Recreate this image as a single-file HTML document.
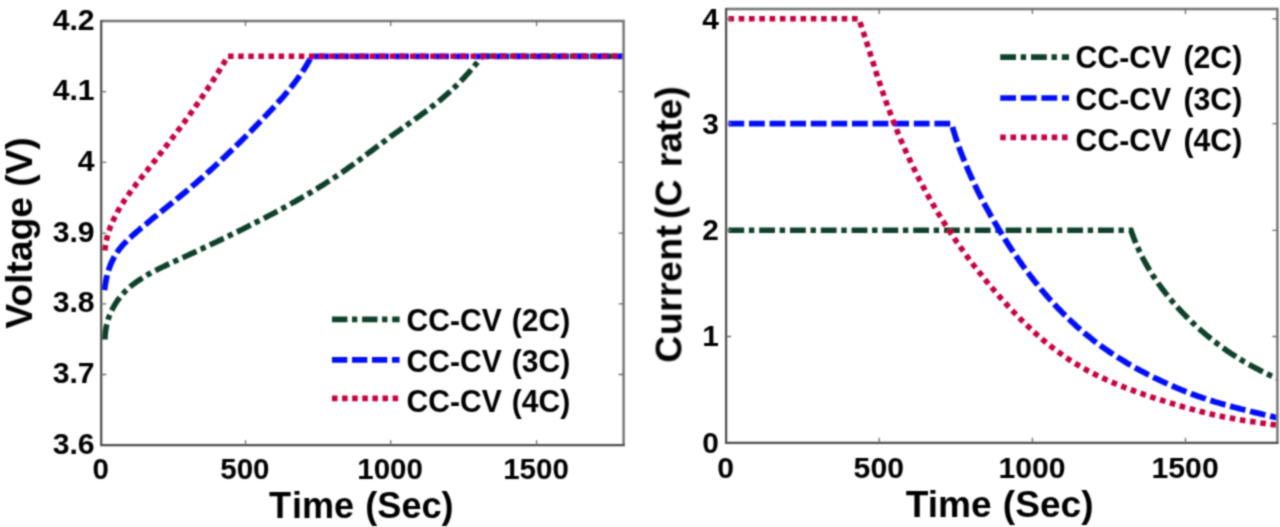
<!DOCTYPE html>
<html lang="en"><head><meta charset="utf-8"><title>CC-CV charging profiles</title>
<style>html,body{margin:0;padding:0;background:#fff}svg{display:block}text{font-family:"Liberation Sans",Arial,Helvetica,sans-serif;font-weight:bold;fill:#000}</style>
</head><body>
<svg width="1280" height="527" viewBox="0 0 1280 527">
<defs><filter id="soft" x="-1%" y="-1%" width="102%" height="102%"><feConvolveMatrix order="5" kernelMatrix="0.0002 0.0033 0.0081 0.0033 0.0002 0.0033 0.0478 0.1164 0.0478 0.0033 0.0081 0.1164 0.2832 0.1164 0.0081 0.0033 0.0478 0.1164 0.0478 0.0033 0.0002 0.0033 0.0081 0.0033 0.0002" edgeMode="duplicate" preserveAlpha="false"/></filter></defs>
<rect width="1280" height="527" fill="#fff"/>
<g filter="url(#soft)">
<g id="left">
<clipPath id="cl"><rect x="101.2" y="21.0" width="522.4" height="424.2"/></clipPath>
<g clip-path="url(#cl)" fill="none" stroke-width="5.6">
<path d="M105.0 339.5 L105.0 337.0 L105.2 334.5 L105.4 332.0 L105.8 329.5 L106.2 327.1 L106.7 324.7 L107.3 322.3 L108.0 320.0 L108.7 317.6 L109.6 315.3 L110.5 313.1 L111.5 310.9 L112.6 308.7 L113.7 306.6 L115.0 304.5 L116.3 302.4 L117.6 300.4 L119.0 298.5 L120.5 296.6 L122.1 294.8 L123.7 293.0 L125.3 291.2 L127.0 289.6 L128.8 288.0 L130.6 286.4 L132.5 284.9 L134.4 283.4 L136.3 282.0 L138.3 280.6 L140.3 279.3 L142.3 278.0 L144.3 276.7 L146.4 275.5 L148.5 274.2 L150.7 273.1 L152.8 271.9 L155.0 270.8 L157.1 269.7 L159.3 268.6 L161.5 267.5 L163.7 266.5 L165.9 265.4 L168.1 264.4 L170.4 263.4 L172.6 262.3 L174.8 261.3 L177.0 260.3 L179.2 259.3 L181.5 258.2 L183.7 257.2 L185.9 256.2 L188.1 255.2 L190.3 254.1 L192.6 253.1 L194.8 252.1 L197.0 251.0 L199.2 250.0 L201.4 249.0 L203.6 247.9 L205.8 246.9 L208.0 245.8 L210.2 244.8 L212.4 243.8 L214.6 242.7 L216.8 241.7 L219.0 240.6 L221.2 239.6 L223.4 238.5 L225.6 237.5 L227.8 236.4 L230.0 235.3 L232.2 234.3 L234.4 233.2 L236.5 232.1 L238.7 231.1 L240.9 230.0 L243.1 228.9 L245.3 227.8 L247.4 226.7 L249.6 225.6 L251.8 224.5 L253.9 223.4 L256.1 222.3 L258.3 221.2 L260.4 220.1 L262.6 219.0 L264.7 217.9 L266.9 216.8 L269.0 215.6 L271.2 214.5 L273.3 213.4 L275.5 212.2 L277.6 211.1 L279.8 209.9 L281.9 208.8 L284.0 207.6 L286.2 206.4 L288.3 205.3 L290.4 204.1 L292.5 202.9 L294.7 201.7 L296.8 200.5 L298.9 199.3 L301.0 198.1 L303.1 196.9 L305.2 195.7 L307.3 194.4 L309.4 193.2 L311.5 192.0 L313.5 190.7 L315.6 189.5 L317.7 188.2 L319.8 186.9 L321.8 185.6 L323.9 184.3 L325.9 183.0 L328.0 181.7 L330.0 180.4 L332.1 179.1 L334.1 177.7 L336.1 176.4 L338.1 175.0 L340.2 173.6 L342.2 172.3 L344.2 170.9 L346.2 169.5 L348.1 168.0 L350.1 166.6 L352.1 165.2 L354.1 163.8 L356.0 162.3 L358.0 160.9 L360.0 159.4 L361.9 158.0 L363.9 156.5 L365.8 155.0 L367.8 153.6 L369.7 152.1 L371.7 150.7 L373.6 149.2 L375.6 147.7 L377.5 146.3 L379.5 144.8 L381.5 143.3 L383.4 141.9 L385.4 140.5 L387.3 139.0 L389.3 137.6 L391.2 136.1 L393.2 134.7 L395.2 133.3 L397.2 131.9 L399.1 130.5 L401.1 129.1 L403.1 127.7 L405.1 126.3 L407.0 124.9 L409.0 123.5 L411.0 122.1 L413.0 120.7 L414.9 119.3 L416.9 117.9 L418.9 116.5 L420.8 115.1 L422.8 113.6 L424.7 112.2 L426.6 110.7 L428.6 109.3 L430.5 107.8 L432.4 106.3 L434.3 104.8 L436.2 103.3 L438.1 101.8 L440.0 100.3 L441.9 98.7 L443.7 97.1 L445.6 95.5 L447.4 93.9 L449.2 92.3 L451.0 90.6 L452.8 88.9 L454.6 87.2 L456.4 85.5 L458.1 83.8 L459.9 82.0 L461.6 80.3 L463.3 78.5 L465.0 76.7 L466.6 74.9 L468.3 73.1 L469.9 71.2 L471.5 69.4 L473.1 67.6 L474.6 65.7 L476.2 63.8 L477.7 62.0 L479.2 60.1 L480.7 58.2 L482.1 56.3 L623.0 56.3" stroke="#10402a" stroke-dasharray="15.4 4.6 5.3 4.8"/>
<path d="M104.5 290.2 L104.7 288.6 L104.9 287.0 L105.1 285.4 L105.4 283.8 L105.7 282.2 L106.0 280.6 L106.3 279.0 L106.6 277.5 L107.0 275.9 L107.4 274.3 L107.8 272.8 L108.3 271.2 L108.8 269.7 L109.3 268.2 L109.8 266.7 L110.4 265.2 L111.0 263.7 L111.6 262.3 L112.3 260.8 L113.0 259.4 L113.7 258.0 L114.4 256.6 L115.2 255.2 L116.1 253.9 L116.9 252.6 L117.8 251.3 L118.7 250.0 L119.7 248.7 L120.7 247.5 L121.7 246.3 L122.7 245.1 L123.8 243.9 L124.9 242.8 L126.0 241.7 L127.1 240.5 L128.3 239.4 L129.4 238.3 L130.6 237.3 L131.8 236.2 L133.0 235.1 L134.2 234.1 L135.4 233.0 L136.6 232.0 L137.9 230.9 L139.1 229.9 L140.3 228.8 L141.5 227.8 L142.8 226.8 L144.0 225.8 L145.2 224.7 L146.5 223.7 L147.7 222.7 L148.9 221.7 L150.2 220.6 L151.4 219.6 L152.7 218.6 L153.9 217.6 L155.1 216.6 L156.4 215.6 L157.6 214.6 L158.9 213.6 L160.1 212.6 L161.3 211.6 L162.6 210.6 L163.8 209.5 L165.1 208.5 L166.3 207.5 L167.5 206.5 L168.8 205.5 L170.0 204.5 L171.2 203.5 L172.5 202.5 L173.7 201.5 L175.0 200.5 L176.2 199.5 L177.4 198.5 L178.7 197.5 L179.9 196.5 L181.1 195.5 L182.3 194.4 L183.6 193.4 L184.8 192.4 L186.0 191.4 L187.2 190.4 L188.5 189.3 L189.7 188.3 L190.9 187.3 L192.1 186.3 L193.3 185.2 L194.5 184.2 L195.8 183.2 L197.0 182.1 L198.2 181.1 L199.4 180.0 L200.6 179.0 L201.8 177.9 L203.0 176.9 L204.2 175.8 L205.4 174.8 L206.5 173.7 L207.7 172.6 L208.9 171.6 L210.1 170.5 L211.3 169.4 L212.5 168.3 L213.6 167.3 L214.8 166.2 L216.0 165.1 L217.2 164.0 L218.3 162.9 L219.5 161.8 L220.7 160.7 L221.8 159.6 L223.0 158.5 L224.2 157.4 L225.3 156.3 L226.5 155.2 L227.6 154.1 L228.8 153.0 L229.9 151.9 L231.1 150.8 L232.2 149.7 L233.4 148.6 L234.5 147.5 L235.7 146.3 L236.8 145.2 L238.0 144.1 L239.1 143.0 L240.2 141.9 L241.4 140.7 L242.5 139.6 L243.6 138.5 L244.8 137.3 L245.9 136.2 L247.0 135.1 L248.1 133.9 L249.3 132.8 L250.4 131.7 L251.5 130.5 L252.6 129.4 L253.7 128.2 L254.8 127.1 L256.0 125.9 L257.1 124.8 L258.2 123.6 L259.3 122.5 L260.4 121.3 L261.5 120.2 L262.6 119.0 L263.7 117.9 L264.8 116.7 L265.9 115.6 L267.0 114.4 L268.1 113.2 L269.2 112.1 L270.3 110.9 L271.4 109.8 L272.5 108.6 L273.6 107.4 L274.6 106.3 L275.7 105.1 L276.8 103.9 L277.9 102.7 L278.9 101.5 L280.0 100.3 L281.0 99.2 L282.1 98.0 L283.1 96.8 L284.2 95.6 L285.2 94.3 L286.2 93.1 L287.3 91.9 L288.3 90.7 L289.3 89.5 L290.3 88.2 L291.3 87.0 L292.3 85.7 L293.2 84.5 L294.2 83.2 L295.2 82.0 L296.1 80.7 L297.1 79.4 L298.0 78.1 L298.9 76.8 L299.8 75.5 L300.7 74.2 L301.6 72.9 L302.5 71.5 L303.4 70.2 L304.3 68.9 L305.1 67.5 L306.0 66.1 L306.8 64.8 L307.6 63.4 L308.4 62.0 L309.2 60.6 L310.0 59.2 L310.7 57.7 L311.5 56.3 L623.0 56.3" stroke="#0010f8" stroke-width="5.8" stroke-dasharray="15.3 4.7"/>
<path d="M104.9 250.5 L105.0 249.3 L105.1 248.1 L105.3 247.0 L105.4 245.8 L105.6 244.7 L105.8 243.5 L106.0 242.4 L106.2 241.2 L106.5 240.1 L106.7 239.0 L107.0 237.8 L107.3 236.7 L107.6 235.6 L107.9 234.5 L108.2 233.4 L108.5 232.3 L108.9 231.2 L109.3 230.1 L109.6 229.0 L110.0 228.0 L110.4 226.9 L110.8 225.8 L111.3 224.8 L111.7 223.7 L112.1 222.7 L112.6 221.6 L113.1 220.6 L113.6 219.5 L114.1 218.5 L114.6 217.4 L115.1 216.4 L115.6 215.4 L116.1 214.4 L116.7 213.4 L117.2 212.3 L117.8 211.3 L118.4 210.3 L118.9 209.3 L119.5 208.3 L120.1 207.3 L120.7 206.3 L121.3 205.3 L121.9 204.4 L122.6 203.4 L123.2 202.4 L123.8 201.4 L124.5 200.4 L125.1 199.5 L125.8 198.5 L126.5 197.5 L127.1 196.6 L127.8 195.6 L128.5 194.6 L129.2 193.7 L129.9 192.7 L130.5 191.8 L131.2 190.8 L131.9 189.9 L132.7 188.9 L133.4 188.0 L134.1 187.1 L134.8 186.1 L135.5 185.2 L136.2 184.2 L136.9 183.3 L137.7 182.4 L138.4 181.4 L139.1 180.5 L139.9 179.6 L140.6 178.6 L141.3 177.7 L142.1 176.8 L142.8 175.8 L143.5 174.9 L144.3 174.0 L145.0 173.1 L145.7 172.1 L146.5 171.2 L147.2 170.3 L147.9 169.4 L148.6 168.5 L149.4 167.5 L150.1 166.6 L150.8 165.7 L151.6 164.8 L152.3 163.8 L153.0 162.9 L153.7 162.0 L154.5 161.1 L155.2 160.2 L155.9 159.3 L156.6 158.3 L157.3 157.4 L158.1 156.5 L158.8 155.6 L159.5 154.7 L160.2 153.7 L160.9 152.8 L161.7 151.9 L162.4 151.0 L163.1 150.1 L163.8 149.1 L164.5 148.2 L165.2 147.3 L165.9 146.4 L166.6 145.5 L167.4 144.6 L168.1 143.6 L168.8 142.7 L169.5 141.8 L170.2 140.9 L170.9 140.0 L171.6 139.0 L172.3 138.1 L173.0 137.2 L173.7 136.3 L174.4 135.3 L175.1 134.4 L175.8 133.5 L176.5 132.6 L177.2 131.7 L177.9 130.7 L178.6 129.8 L179.3 128.9 L179.9 128.0 L180.6 127.0 L181.3 126.1 L182.0 125.2 L182.7 124.2 L183.4 123.3 L184.1 122.4 L184.8 121.5 L185.4 120.5 L186.1 119.6 L186.8 118.7 L187.5 117.7 L188.2 116.8 L188.8 115.9 L189.5 114.9 L190.2 114.0 L190.9 113.1 L191.5 112.1 L192.2 111.2 L192.9 110.2 L193.5 109.3 L194.2 108.3 L194.9 107.4 L195.5 106.5 L196.2 105.5 L196.9 104.6 L197.5 103.6 L198.2 102.7 L198.9 101.7 L199.5 100.8 L200.2 99.8 L200.8 98.9 L201.5 97.9 L202.1 96.9 L202.8 96.0 L203.4 95.0 L204.1 94.1 L204.7 93.1 L205.4 92.1 L206.0 91.2 L206.7 90.2 L207.3 89.2 L208.0 88.3 L208.6 87.3 L209.2 86.3 L209.9 85.4 L210.5 84.4 L211.2 83.4 L211.8 82.4 L212.4 81.4 L213.1 80.5 L213.7 79.5 L214.3 78.5 L214.9 77.5 L215.6 76.5 L216.2 75.5 L216.8 74.5 L217.4 73.5 L218.1 72.5 L218.7 71.5 L219.3 70.5 L219.9 69.5 L220.5 68.5 L221.1 67.5 L221.8 66.5 L222.4 65.5 L223.0 64.5 L223.6 63.5 L224.2 62.4 L224.8 61.4 L225.4 60.4 L226.0 59.4 L226.6 58.4 L227.2 57.3 L227.8 56.3 L623.0 56.3" stroke="#c6003f" stroke-dasharray="5.5 4.6"/>
</g>
<g fill="none" stroke="#4c4c4c" stroke-width="2.2">
<path d="M101.2 21.0 H623.6 V445.2" stroke="#727272" stroke-width="2.4"/>
<path d="M101.2 21.0 V445.2 H623.6" stroke-linecap="square"/>
<path d="M245.5 445.2 v-5 M245.5 21.0 v5 M390.7 445.2 v-5 M390.7 21.0 v5 M536.6 445.2 v-5 M536.6 21.0 v5 M101.2 91.7 h5 M623.6 91.7 h-5 M101.2 162.4 h5 M623.6 162.4 h-5 M101.2 233.1 h5 M623.6 233.1 h-5 M101.2 303.8 h5 M623.6 303.8 h-5 M101.2 374.5 h5 M623.6 374.5 h-5" stroke-width="1.3" stroke="#6a6a6a"/>
</g>
<g font-size="30.2" text-anchor="end">
<text x="94.6" y="29.6">4.2</text>
<text x="94.6" y="100.3">4.1</text>
<text x="94.6" y="171.0">4</text>
<text x="94.6" y="241.7">3.9</text>
<text x="94.6" y="312.4">3.8</text>
<text x="94.6" y="383.1">3.7</text>
<text x="94.6" y="453.8">3.6</text>
</g>
<g font-size="29.5" text-anchor="middle">
<text x="100.6" y="478.8">0</text>
<text x="244.9" y="478.8">500</text>
<text x="390.1" y="478.8">1000</text>
<text x="536.0" y="478.8">1500</text>
</g>
<text x="361.3" y="518" font-size="36.1" word-spacing="1.2" text-anchor="middle" dx="0 1.6">Time (Sec)</text>
<text transform="translate(32.0 232.9) rotate(-90)" font-size="37.2" text-anchor="middle">Voltage (V)</text>
<path d="M332 319.4 H399.6" fill="none" stroke="#10402a" stroke-width="5.6" stroke-dasharray="15.4 4.6 5.3 4.8"/>
<text transform="translate(406.5 331.1) scale(1 1.05)" font-size="30.1" word-spacing="1.6">CC-CV (2C)</text>
<path d="M332 359.9 H399.6" fill="none" stroke="#0010f8" stroke-width="5.6" stroke-dasharray="15.3 4.7"/>
<text transform="translate(406.5 371.8) scale(1 1.05)" font-size="30.1" word-spacing="1.6">CC-CV (3C)</text>
<path d="M332 398.4 H399.6" fill="none" stroke="#c6003f" stroke-width="5.6" stroke-dasharray="5.5 4.6"/>
<text transform="translate(406.5 412.2) scale(1 1.05)" font-size="30.1" word-spacing="1.6">CC-CV (4C)</text>
</g>
<g id="right">
<clipPath id="cr"><rect x="726.1" y="9.0" width="551.3" height="433.8"/></clipPath>
<g clip-path="url(#cr)" fill="none" stroke-width="5.6">
<path d="M728.4 230.3 L1131.0 230.3 L1131.3 231.3 L1131.7 232.3 L1132.0 233.3 L1132.4 234.4 L1132.8 235.4 L1133.1 236.4 L1133.5 237.4 L1133.9 238.4 L1134.3 239.4 L1134.7 240.4 L1135.1 241.4 L1135.5 242.4 L1135.9 243.4 L1136.3 244.3 L1136.8 245.3 L1137.2 246.3 L1137.6 247.3 L1138.1 248.3 L1138.5 249.2 L1139.0 250.2 L1139.4 251.2 L1139.9 252.2 L1140.3 253.1 L1140.8 254.1 L1141.3 255.1 L1141.8 256.0 L1142.3 257.0 L1142.7 257.9 L1143.2 258.9 L1143.7 259.8 L1144.3 260.8 L1144.8 261.7 L1145.3 262.7 L1145.8 263.6 L1146.3 264.5 L1146.9 265.5 L1147.4 266.4 L1147.9 267.3 L1148.5 268.2 L1149.0 269.2 L1149.6 270.1 L1150.1 271.0 L1150.7 271.9 L1151.3 272.8 L1151.9 273.8 L1152.4 274.7 L1153.0 275.6 L1153.6 276.5 L1154.2 277.4 L1154.8 278.3 L1155.4 279.2 L1156.0 280.1 L1156.6 280.9 L1157.2 281.8 L1157.8 282.7 L1158.4 283.6 L1159.1 284.5 L1159.7 285.3 L1160.3 286.2 L1161.0 287.1 L1161.6 288.0 L1162.3 288.8 L1162.9 289.7 L1163.6 290.5 L1164.2 291.4 L1164.9 292.3 L1165.5 293.1 L1166.2 294.0 L1166.9 294.8 L1167.6 295.7 L1168.2 296.5 L1168.9 297.3 L1169.6 298.2 L1170.3 299.0 L1171.0 299.8 L1171.7 300.7 L1172.4 301.5 L1173.1 302.3 L1173.8 303.1 L1174.5 303.9 L1175.2 304.7 L1175.9 305.6 L1176.7 306.4 L1177.4 307.2 L1178.1 308.0 L1178.8 308.8 L1179.6 309.6 L1180.3 310.3 L1181.0 311.1 L1181.8 311.9 L1182.5 312.7 L1183.3 313.5 L1184.0 314.3 L1184.8 315.0 L1185.5 315.8 L1186.3 316.6 L1187.1 317.3 L1187.8 318.1 L1188.6 318.9 L1189.4 319.6 L1190.1 320.4 L1190.9 321.1 L1191.7 321.9 L1192.5 322.6 L1193.3 323.4 L1194.1 324.1 L1194.8 324.8 L1195.6 325.6 L1196.4 326.3 L1197.2 327.0 L1198.0 327.7 L1198.8 328.5 L1199.6 329.2 L1200.4 329.9 L1201.2 330.6 L1202.1 331.3 L1202.9 332.0 L1203.7 332.7 L1204.5 333.4 L1205.3 334.1 L1206.2 334.8 L1207.0 335.5 L1207.8 336.2 L1208.6 336.9 L1209.5 337.5 L1210.3 338.2 L1211.2 338.9 L1212.0 339.6 L1212.8 340.2 L1213.7 340.9 L1214.5 341.6 L1215.4 342.2 L1216.2 342.9 L1217.1 343.5 L1218.0 344.2 L1218.8 344.8 L1219.7 345.4 L1220.5 346.1 L1221.4 346.7 L1222.3 347.4 L1223.2 348.0 L1224.0 348.6 L1224.9 349.2 L1225.8 349.8 L1226.7 350.5 L1227.5 351.1 L1228.4 351.7 L1229.3 352.3 L1230.2 352.9 L1231.1 353.5 L1232.0 354.1 L1232.9 354.7 L1233.8 355.2 L1234.7 355.8 L1235.6 356.4 L1236.5 357.0 L1237.4 357.6 L1238.3 358.1 L1239.2 358.7 L1240.1 359.3 L1241.1 359.8 L1242.0 360.4 L1242.9 360.9 L1243.8 361.5 L1244.7 362.0 L1245.7 362.6 L1246.6 363.1 L1247.5 363.7 L1248.5 364.2 L1249.4 364.7 L1250.3 365.2 L1251.3 365.8 L1252.2 366.3 L1253.2 366.8 L1254.1 367.3 L1255.1 367.8 L1256.0 368.3 L1257.0 368.8 L1257.9 369.3 L1258.9 369.8 L1259.8 370.3 L1260.8 370.8 L1261.8 371.3 L1262.7 371.7 L1263.7 372.2 L1264.6 372.7 L1265.6 373.2 L1266.6 373.6 L1267.6 374.1 L1268.5 374.5 L1269.5 375.0 L1270.5 375.5 L1271.5 375.9 L1272.5 376.3 L1273.4 376.8 L1274.4 377.2 L1275.4 377.6 L1276.4 378.1 L1277.4 378.5" stroke="#10402a" stroke-dasharray="15.8 4.7 5.4 4.9"/>
<path d="M728.4 123.7 L951.5 123.7 L952.2 126.0 L952.8 128.2 L953.5 130.5 L954.2 132.7 L954.9 135.0 L955.6 137.2 L956.4 139.4 L957.1 141.6 L957.9 143.8 L958.6 146.0 L959.4 148.2 L960.2 150.4 L961.0 152.6 L961.9 154.8 L962.7 156.9 L963.6 159.1 L964.4 161.3 L965.3 163.4 L966.2 165.6 L967.1 167.7 L968.0 169.8 L968.9 172.0 L969.9 174.1 L970.8 176.2 L971.8 178.3 L972.7 180.4 L973.7 182.5 L974.7 184.6 L975.7 186.7 L976.7 188.8 L977.7 190.9 L978.7 193.0 L979.8 195.0 L980.8 197.1 L981.9 199.1 L983.0 201.2 L984.1 203.3 L985.1 205.3 L986.2 207.3 L987.4 209.4 L988.5 211.4 L989.6 213.4 L990.7 215.5 L991.9 217.5 L993.1 219.5 L994.2 221.5 L995.4 223.5 L996.6 225.5 L997.8 227.5 L999.0 229.5 L1000.2 231.5 L1001.4 233.5 L1002.6 235.5 L1003.9 237.5 L1005.1 239.5 L1006.4 241.4 L1007.6 243.4 L1008.9 245.4 L1010.2 247.3 L1011.5 249.3 L1012.8 251.2 L1014.1 253.2 L1015.4 255.1 L1016.7 257.0 L1018.1 258.9 L1019.4 260.9 L1020.8 262.8 L1022.1 264.7 L1023.5 266.6 L1024.9 268.5 L1026.3 270.4 L1027.7 272.2 L1029.1 274.1 L1030.5 276.0 L1032.0 277.8 L1033.4 279.7 L1034.8 281.5 L1036.3 283.3 L1037.8 285.2 L1039.3 287.0 L1040.7 288.8 L1042.2 290.6 L1043.8 292.3 L1045.3 294.1 L1046.8 295.9 L1048.3 297.6 L1049.9 299.4 L1051.5 301.1 L1053.0 302.8 L1054.6 304.6 L1056.2 306.3 L1057.8 308.0 L1059.4 309.6 L1061.0 311.3 L1062.7 313.0 L1064.3 314.6 L1066.0 316.2 L1067.6 317.9 L1069.3 319.5 L1071.0 321.1 L1072.7 322.7 L1074.4 324.2 L1076.1 325.8 L1077.8 327.3 L1079.6 328.9 L1081.3 330.4 L1083.1 331.9 L1084.9 333.4 L1086.7 334.9 L1088.5 336.3 L1090.3 337.8 L1092.1 339.2 L1093.9 340.7 L1095.7 342.1 L1097.6 343.5 L1099.5 344.8 L1101.3 346.2 L1103.2 347.5 L1105.1 348.9 L1107.0 350.2 L1108.9 351.5 L1110.8 352.8 L1112.8 354.1 L1114.7 355.4 L1116.7 356.6 L1118.6 357.9 L1120.6 359.1 L1122.6 360.3 L1124.6 361.5 L1126.5 362.7 L1128.5 363.9 L1130.6 365.1 L1132.6 366.2 L1134.6 367.4 L1136.6 368.5 L1138.7 369.6 L1140.7 370.7 L1142.8 371.8 L1144.9 372.9 L1146.9 374.0 L1149.0 375.0 L1151.1 376.1 L1153.2 377.1 L1155.3 378.2 L1157.4 379.2 L1159.5 380.2 L1161.6 381.2 L1163.8 382.2 L1165.9 383.1 L1168.0 384.1 L1170.2 385.1 L1172.3 386.0 L1174.5 386.9 L1176.6 387.9 L1178.8 388.8 L1180.9 389.7 L1183.1 390.6 L1185.3 391.4 L1187.5 392.3 L1189.7 393.1 L1191.8 394.0 L1194.0 394.8 L1196.2 395.6 L1198.4 396.4 L1200.6 397.1 L1202.8 397.9 L1205.1 398.6 L1207.3 399.4 L1209.5 400.1 L1211.7 400.8 L1213.9 401.5 L1216.1 402.2 L1218.4 402.8 L1220.6 403.5 L1222.8 404.1 L1225.1 404.8 L1227.3 405.4 L1229.6 406.0 L1231.8 406.6 L1234.0 407.2 L1236.3 407.8 L1238.5 408.4 L1240.8 409.0 L1243.0 409.5 L1245.3 410.1 L1247.6 410.7 L1249.8 411.2 L1252.1 411.8 L1254.3 412.3 L1256.6 412.8 L1258.9 413.4 L1261.1 413.9 L1263.4 414.5 L1265.7 415.0 L1267.9 415.5 L1270.2 416.1 L1272.5 416.6 L1274.7 417.2 L1277.0 417.7" stroke="#0010f8" stroke-width="5.8" stroke-dasharray="15.8 4.8"/>
<path d="M728.4 18.8 L858.9 18.8 L859.9 21.8 L860.9 24.8 L861.9 27.8 L862.9 30.8 L863.9 33.8 L864.9 36.8 L865.9 39.8 L866.8 42.8 L867.8 45.8 L868.7 48.8 L869.7 51.8 L870.6 54.8 L871.6 57.8 L872.5 60.8 L873.5 63.8 L874.4 66.8 L875.4 69.8 L876.3 72.8 L877.3 75.8 L878.3 78.8 L879.3 81.8 L880.3 84.8 L881.3 87.8 L882.3 90.8 L883.3 93.8 L884.3 96.8 L885.4 99.7 L886.4 102.7 L887.5 105.7 L888.6 108.7 L889.7 111.6 L890.8 114.6 L891.9 117.6 L893.0 120.5 L894.2 123.5 L895.3 126.4 L896.5 129.3 L897.7 132.3 L898.9 135.2 L900.1 138.1 L901.3 141.0 L902.6 143.9 L903.8 146.8 L905.1 149.7 L906.4 152.6 L907.7 155.5 L909.0 158.3 L910.4 161.2 L911.7 164.1 L913.1 166.9 L914.5 169.7 L915.8 172.6 L917.3 175.4 L918.7 178.2 L920.1 181.0 L921.6 183.8 L923.1 186.6 L924.6 189.3 L926.1 192.1 L927.6 194.9 L929.1 197.6 L930.7 200.4 L932.2 203.1 L933.8 205.8 L935.4 208.5 L937.0 211.2 L938.6 213.9 L940.3 216.6 L941.9 219.3 L943.6 222.0 L945.3 224.6 L947.0 227.3 L948.7 229.9 L950.4 232.5 L952.2 235.2 L953.9 237.8 L955.7 240.4 L957.5 243.0 L959.3 245.6 L961.1 248.1 L963.0 250.7 L964.8 253.2 L966.7 255.8 L968.5 258.3 L970.4 260.9 L972.3 263.4 L974.2 265.9 L976.2 268.4 L978.1 270.9 L980.1 273.3 L982.1 275.8 L984.0 278.3 L986.0 280.7 L988.1 283.2 L990.1 285.6 L992.1 288.0 L994.2 290.4 L996.2 292.8 L998.3 295.2 L1000.4 297.6 L1002.5 299.9 L1004.7 302.3 L1006.8 304.6 L1008.9 307.0 L1011.1 309.3 L1013.3 311.6 L1015.5 313.9 L1017.7 316.2 L1019.9 318.4 L1022.2 320.7 L1024.4 322.9 L1026.7 325.1 L1029.0 327.3 L1031.3 329.5 L1033.6 331.6 L1035.9 333.7 L1038.3 335.8 L1040.7 337.9 L1043.1 340.0 L1045.5 342.0 L1047.9 344.0 L1050.4 345.9 L1052.9 347.9 L1055.3 349.8 L1057.9 351.7 L1060.4 353.5 L1062.9 355.3 L1065.5 357.1 L1068.1 358.9 L1070.7 360.6 L1073.4 362.3 L1076.0 363.9 L1078.7 365.5 L1081.4 367.1 L1084.2 368.6 L1086.9 370.2 L1089.7 371.6 L1092.5 373.1 L1095.3 374.5 L1098.1 375.9 L1100.9 377.2 L1103.8 378.6 L1106.6 379.9 L1109.5 381.1 L1112.4 382.4 L1115.3 383.6 L1118.2 384.8 L1121.1 386.0 L1124.1 387.2 L1127.0 388.3 L1130.0 389.4 L1133.0 390.5 L1135.9 391.6 L1138.9 392.7 L1141.9 393.7 L1144.9 394.8 L1147.9 395.8 L1150.9 396.8 L1154.0 397.8 L1157.0 398.8 L1160.0 399.7 L1163.0 400.7 L1166.0 401.6 L1169.1 402.6 L1172.1 403.5 L1175.1 404.4 L1178.2 405.3 L1181.2 406.2 L1184.2 407.1 L1187.3 407.9 L1190.3 408.8 L1193.4 409.6 L1196.4 410.4 L1199.5 411.2 L1202.5 412.0 L1205.6 412.8 L1208.7 413.5 L1211.7 414.2 L1214.8 414.9 L1217.9 415.6 L1220.9 416.2 L1224.0 416.9 L1227.1 417.5 L1230.2 418.0 L1233.3 418.6 L1236.4 419.2 L1239.5 419.7 L1242.6 420.2 L1245.7 420.7 L1248.8 421.2 L1251.9 421.6 L1255.0 422.1 L1258.2 422.5 L1261.3 423.0 L1264.4 423.4 L1267.6 423.8 L1270.7 424.3 L1273.8 424.7 L1277.0 425.1" stroke="#c6003f" stroke-dasharray="5.6 4.7"/>
</g>
<g fill="none" stroke="#4c4c4c" stroke-width="2.2">
<path d="M726.1 9.0 H1277.4 V442.8" stroke="#727272" stroke-width="2.4"/>
<path d="M726.1 9.0 V442.8 H1277.4" stroke-linecap="square"/>
<path d="M879.2 442.8 v-5 M879.2 9.0 v5 M1032.4 442.8 v-5 M1032.4 9.0 v5 M1185.5 442.8 v-5 M1185.5 9.0 v5 M726.1 336.5 h5 M1277.4 336.5 h-5 M726.1 230.3 h5 M1277.4 230.3 h-5 M726.1 123.7 h5 M1277.4 123.7 h-5 M726.1 18.8 h5 M1277.4 18.8 h-5" stroke-width="1.3" stroke="#6a6a6a"/>
</g>
<g font-size="29.9" text-anchor="end">
<text x="718.8" y="28.6">4</text>
<text x="718.8" y="133.5">3</text>
<text x="718.8" y="240.1">2</text>
<text x="718.8" y="346.3">1</text>
<text x="718.8" y="452.6">0</text>
</g>
<g font-size="30.2" text-anchor="middle">
<text x="725.7" y="477.8">0</text>
<text x="878.8" y="477.8">500</text>
<text x="1032.0" y="477.8">1000</text>
<text x="1185.1" y="477.8">1500</text>
</g>
<text x="999.6" y="517.2" font-size="37.1" word-spacing="1" text-anchor="middle">Time (Sec)</text>
<text transform="translate(681.5 362.7) rotate(-90)" font-size="37.4" dx="0 .45 .45 .45 .45 .45 .45 0 -4.35 0 0 1.84">Current (C rate)</text>
<path d="M1000.2 57.1 H1069" fill="none" stroke="#10402a" stroke-width="5.6" stroke-dasharray="15.8 4.7 5.4 4.9"/>
<text transform="translate(1075.6 68.3) scale(1 1.05)" font-size="30.2" word-spacing="3.9">CC-CV (2C)</text>
<path d="M1000.2 98.0 H1069" fill="none" stroke="#0010f8" stroke-width="5.6" stroke-dasharray="15.8 4.8"/>
<text transform="translate(1075.6 109.5) scale(1 1.05)" font-size="30.2" word-spacing="3.9">CC-CV (3C)</text>
<path d="M1000.2 137.4 H1069" fill="none" stroke="#c6003f" stroke-width="5.6" stroke-dasharray="5.6 4.7"/>
<text transform="translate(1075.6 150.7) scale(1 1.05)" font-size="30.2" word-spacing="3.9">CC-CV (4C)</text>
</g>
</g>
</svg></body></html>
